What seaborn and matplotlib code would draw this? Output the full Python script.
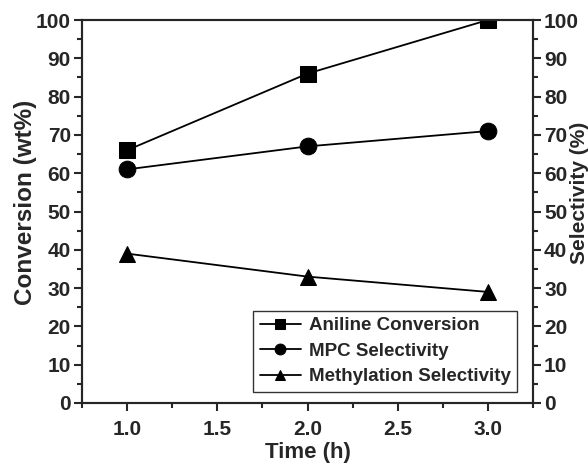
import matplotlib
matplotlib.use("Agg")
import matplotlib.pyplot as plt
import seaborn as sns
import pandas as pd
from matplotlib.ticker import MultipleLocator

time_h = [1.0, 2.0, 3.0]
aniline_conversion = [66, 86, 100]
mpc_selectivity = [61, 67, 71]
methylation_selectivity = [39, 33, 29]

sns.set_style("ticks")
plt.rcParams['font.family'] = ['Liberation Sans', 'DejaVu Sans']
plt.rcParams['font.weight'] = 'bold'

df = pd.DataFrame({
    "Time": time_h * 3,
    "Value": aniline_conversion + mpc_selectivity + methylation_selectivity,
    "Series": ["Aniline Conversion"] * 3 + ["MPC Selectivity"] * 3 + ["Methylation Selectivity"] * 3,
})

fig = plt.figure(figsize=(5.88, 4.66), dpi=100)
ax = fig.add_axes([82/588, 1 - 403/466, (533-82)/588, (403-20)/466])

markers = {"Aniline Conversion": "s", "MPC Selectivity": "o", "Methylation Selectivity": "^"}
for name, m in markers.items():
    sub = df[df["Series"] == name]
    sns.lineplot(data=sub, x="Time", y="Value", ax=ax, color="black", marker=m,
                 markersize=12, linewidth=1.3, label=name, markeredgecolor="black")

ax.set_xlim(0.75, 3.25)
ax.set_ylim(0, 100)
ax.xaxis.set_major_locator(MultipleLocator(0.5))
ax.xaxis.set_minor_locator(MultipleLocator(0.25))
ax.yaxis.set_major_locator(MultipleLocator(10))
ax.yaxis.set_minor_locator(MultipleLocator(5))
ax.tick_params(axis='both', which='major', direction='out', length=6, width=1.5,
               labelsize=15, pad=2)
ax.tick_params(axis='x', which='major', pad=6)
ax.tick_params(axis='both', which='minor', direction='out', length=3.5, width=1.5)
for s in ax.spines.values():
    s.set_linewidth(1.5)
for lab in ax.get_xticklabels() + ax.get_yticklabels():
    lab.set_fontweight('bold')

ax.set_xlabel("Time (h)", fontsize=16, fontweight='bold')
ax.xaxis.set_label_coords(0.5, -0.102)
ax.set_ylabel("Conversion (wt%)", fontsize=17.5, fontweight='bold')
ax.yaxis.set_label_coords(-0.1, 0.525)

ax2 = ax.twinx()
ax2.set_ylim(0, 100)
ax2.yaxis.set_major_locator(MultipleLocator(10))
ax2.yaxis.set_minor_locator(MultipleLocator(5))
ax2.tick_params(axis='y', which='major', direction='out', length=6, width=1.5,
                labelsize=15, pad=2)
ax2.tick_params(axis='y', which='minor', direction='out', length=3.5, width=1.5)
for lab in ax2.get_yticklabels():
    lab.set_fontweight('bold')
ax2.set_ylabel("Selectivity (%)", fontsize=15, fontweight='bold')
ax2.yaxis.set_label_coords(1.082, 0.548)
for s in ax2.spines.values():
    s.set_linewidth(1.5)

leg = ax.legend(loc='lower right', frameon=True, fancybox=False, edgecolor='black',
                prop={'weight': 'bold', 'size': 13.5}, handlelength=2.2,
                markerscale=0.65, borderpad=0.35, labelspacing=0.45, handletextpad=0.4,
                borderaxespad=0, bbox_to_anchor=(0.9645, 0.0287))
leg.get_frame().set_linewidth(1.0)

fig.savefig("out.png", dpi=100)
